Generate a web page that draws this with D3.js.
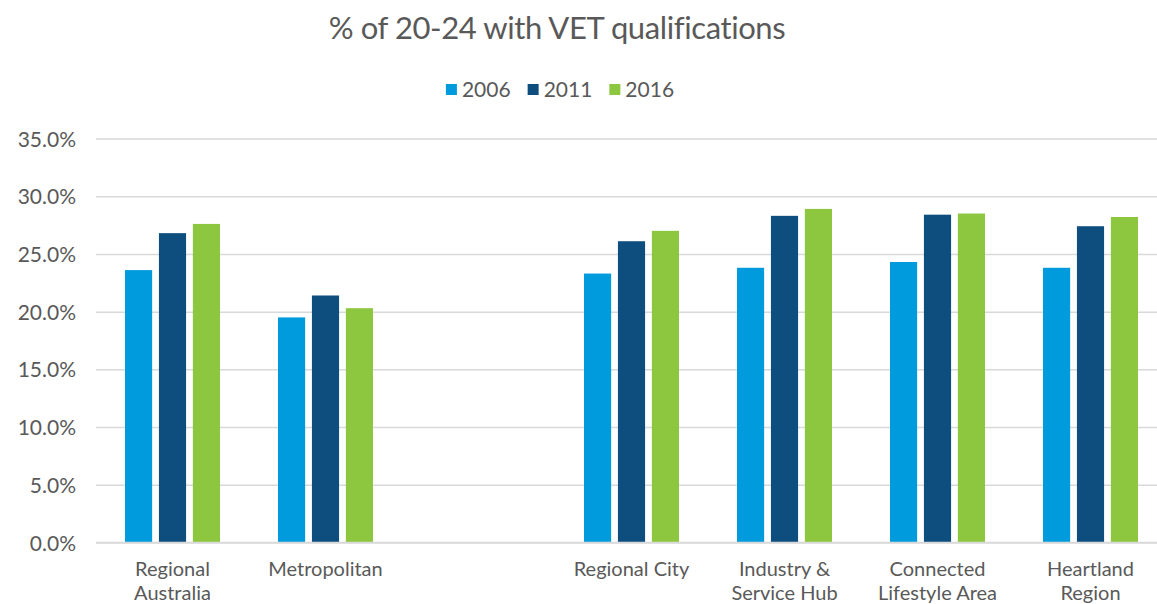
<!DOCTYPE html>
<html>
<head>
<meta charset="utf-8">
<script src="https://cdn.jsdelivr.net/npm/d3@7"></script>
<style>
  html, body { margin: 0; padding: 0; background: #fff; }
  svg { display: block; }
  text { font-family: Lato, "Open Sans", sans-serif; fill: #595959; }
</style>
</head>
<body>
<svg id="chart" width="1157" height="604"></svg>
<script>
const title = "% of 20-24 with VET qualifications";
const categories = [
  ["Regional", "Australia"],
  ["Metropolitan"],
  [""],
  ["Regional City"],
  ["Industry &", "Service Hub"],
  ["Connected", "Lifestyle Area"],
  ["Heartland", "Region"]
];
const seriesNames = ["2006", "2011", "2016"];
const values2006 = [23.6, 19.5, null, 23.3, 23.8, 24.3, 23.8];
const values2011 = [26.8, 21.4, null, 26.1, 28.3, 28.4, 27.4];
const values2016 = [27.6, 20.3, null, 27.0, 28.9, 28.5, 28.2];
const colors = ["#009bdd", "#0d4e7f", "#8dc63f"];
const yTicks = [0, 5, 10, 15, 20, 25, 30, 35];

const seriesValues = [values2006, values2011, values2016];
const svg = d3.select("#chart");
const plotLeft = 96, plotTop = 138.5, plotBottom = 542.5;
const step = 153;
const catIdx = categories.map((c, i) => i);

const x0 = d3.scaleBand().domain(catIdx).range([plotLeft, plotLeft + step * categories.length]).padding(0);
const x1 = d3.scaleBand().domain(seriesNames).range([-47.5, 47.5]).paddingInner(0.2);
const y = d3.scaleLinear().domain([0, 35]).range([plotBottom, plotTop]);

// gridlines
const yAxis = d3.axisLeft(y).tickValues(yTicks)
  .tickSize(-(x0.range()[1] - plotLeft))
  .tickFormat(d => d.toFixed(1) + "%")
  .tickPadding(20);
const gy = svg.append("g").attr("transform", `translate(${plotLeft},0)`).call(yAxis);
gy.select(".domain").remove();
gy.selectAll(".tick line").attr("stroke", "#d9d9d9").attr("stroke-width", 1.5);
gy.selectAll(".tick text").style("font-size", "21px").style("font-family", "Lato, sans-serif")
  .attr("fill", "#595959").attr("x", -20).attr("dy", "0.36em");

// bars
seriesValues.forEach((vals, si) => {
  svg.append("g").selectAll("rect")
    .data(vals.map((v, i) => ({v, i})).filter(d => d.v != null))
    .join("rect")
    .attr("x", d => x0(d.i) + x0.bandwidth() / 2 + x1(seriesNames[si]))
    .attr("width", x1.bandwidth())
    .attr("y", d => y(d.v))
    .attr("height", d => y(0) - y(d.v))
    .attr("fill", colors[si]);
});

// baseline on top
svg.append("line").attr("x1", plotLeft).attr("x2", x0.range()[1])
  .attr("y1", y(0)).attr("y2", y(0)).attr("stroke", "#d9d9d9").attr("stroke-width", 1.5);

// category labels
categories.forEach((lines, i) => {
  const t = svg.append("text")
    .attr("text-anchor", "middle")
    .style("font-size", "20px");
  lines.forEach((ln, li) => {
    t.append("tspan").attr("x", x0(i) + x0.bandwidth() / 2)
      .attr("y", 576 + li * 24).text(ln);
  });
});

// title
svg.append("text").attr("x", 557).attr("y", 38.5).attr("text-anchor", "middle")
  .style("font-size", "31px").style("letter-spacing", "-0.4px").text(title);

// legend
const lg = svg.append("g");
let cx = 0;
seriesNames.forEach((name, i) => {
  const g = lg.append("g").attr("transform", `translate(${cx},0)`);
  g.append("rect").attr("x", 0).attr("y", 84).attr("width", 11).attr("height", 11).attr("fill", colors[i]);
  const t = g.append("text").attr("x", 16).attr("y", 97).style("font-size", "21px").text(name);
  const w = t.node().getComputedTextLength();
  cx += 16 + w + 17;
});
const totalW = cx - 17;
lg.attr("transform", `translate(${560 - totalW / 2},0)`);
</script>
</body>
</html>
